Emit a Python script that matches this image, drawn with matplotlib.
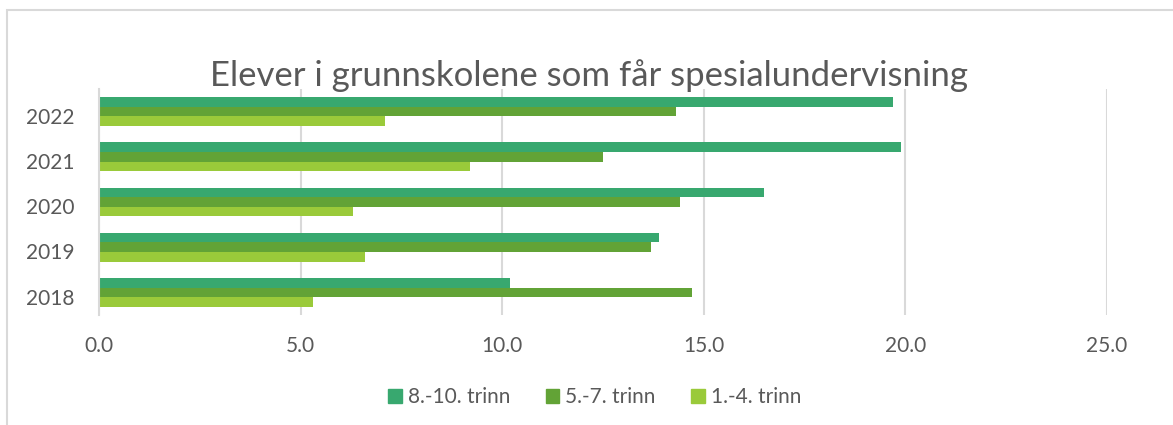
import matplotlib.pyplot as plt
import matplotlib.patches as mpatches
import matplotlib.transforms as mtransforms
import numpy as np

# data
years = ["2018", "2019", "2020", "2021", "2022"]
trinn_8_10 = [10.2, 13.9, 16.5, 19.9, 19.7]
trinn_5_7 = [14.7, 13.7, 14.4, 12.5, 14.3]
trinn_1_4 = [5.3, 6.6, 6.3, 9.2, 7.1]
series_names = ["8.-10. trinn", "5.-7. trinn", "1.-4. trinn"]
colors = ["#38A86F", "#62A336", "#9ACA3A"]

plt.rcParams['font.family'] = ['Lato', 'DejaVu Sans']

fig = plt.figure(figsize=(11.73, 4.25), dpi=100)
ax = fig.add_axes([0.0844, 0.2588, 0.8593, 0.5318])

y = np.arange(len(years))
h = 0.213
ax.barh(y + h, trinn_8_10, height=h, color=colors[0], label=series_names[0], zorder=3)
ax.barh(y, trinn_5_7, height=h, color=colors[1], label=series_names[1], zorder=3)
ax.barh(y - h, trinn_1_4, height=h, color=colors[2], label=series_names[2], zorder=3)

ax.set_xlim(0, 25)
ax.set_ylim(-0.5, 4.5)
ax.set_xticks(np.arange(0, 25.1, 5))
ax.set_xticklabels([f"{v:.1f}" for v in np.arange(0, 25.1, 5)])
ax.set_yticks(y)
ax.set_yticklabels(years)
ax.tick_params(length=0, labelsize=15, colors="#595959")
ax.tick_params(axis='y', pad=18)
ax.tick_params(axis='x', pad=15)

# year labels sit a little below the group centre in the original
offset = mtransforms.ScaledTranslation(0, -3 / 72, fig.dpi_scale_trans)
for lbl in ax.get_yticklabels():
    lbl.set_transform(lbl.get_transform() + offset)

ax.grid(axis='x', color="#D9D9D9", linewidth=1.5, zorder=0)
for s in ["top", "right", "bottom"]:
    ax.spines[s].set_visible(False)
ax.spines["left"].set_color("#D9D9D9")
ax.spines["left"].set_linewidth(1.5)
ax.spines["left"].set_zorder(4)

fig.text(0.502, 0.823, "Elever i grunnskolene som får spesialundervisning",
         ha="center", va="center", fontsize=25, color="#595959")

handles = [mpatches.Patch(color=c) for c in colors]
fig.legend(handles, series_names, loc="center", bbox_to_anchor=(0.507, 0.066),
           ncol=3, frameon=False, fontsize=15, labelcolor="#595959",
           handlelength=0.65, handleheight=0.65, handletextpad=0.3, columnspacing=1.7)

# outer chart border
fig.patches.append(mpatches.Rectangle((7 / 1173, -0.1), 1.2, (415 / 425) + 0.1,
                                      transform=fig.transFigure, fill=False,
                                      edgecolor="#D9D9D9", linewidth=1.5))

fig.savefig("out.png", dpi=100)
